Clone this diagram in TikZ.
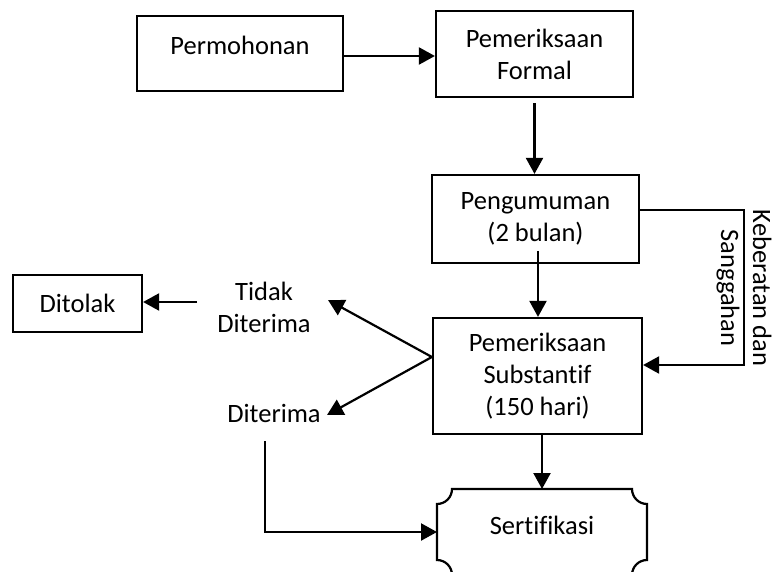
\documentclass[tikz,border=0pt]{standalone}
\usepackage{fontspec}
\setmainfont{Carlito}[Ligatures=NoCommon]
\usepackage{tikz}
\usetikzlibrary{arrows.meta,positioning}
\tikzset{
  box/.style={draw, rectangle, align=center, inner sep=2pt},
  txt/.style={align=center, inner sep=0pt},
  arr/.style={-{Triangle[length=16pt,width=17pt]}},
}

\begin{document}
\begin{tikzpicture}[x=1pt, y=1pt, line width=2.2pt, font=\fontsize{26.5}{32}\selectfont]
  \useasboundingbox (0,0) rectangle (773,571);
  % nodes
  \node[box, minimum width=206pt, minimum height=75pt, text depth=17pt] (perm) at (240,517.5) {Permohonan};
  \node[box, minimum width=197pt, minimum height=86pt] (formal) at (534.5,517) {Pemeriksaan\\Formal};
  \node[box, minimum width=207pt, minimum height=88pt] (umum) at (535.5,352) {Pengumuman\\(2 bulan)};
  \node[box, minimum width=209pt, minimum height=116pt] (subst) at (537.5,195) {Pemeriksaan\\Substantif\\(150 hari)};
  \node[minimum width=210pt, minimum height=86pt, outer sep=0pt, text depth=14pt] (sert) at (542,39) {Sertifikasi};
  \node[box, minimum width=129pt, minimum height=57pt] (tolak) at (77.5,267.5) {Ditolak};
  \node[txt] (tidak) at (264,264) {Tidak\\Diterima};
  \node[txt] (terima) at (274,158) {Diterima};
  \node[txt, rotate=-90] (keberatan) at (744,283) {Keberatan dan\\Sanggahan};
  % sertifikasi shape
  \draw ([xshift=15pt]sert.north west) -- ([xshift=-15pt]sert.north east)
    arc[start angle=180, end angle=270, radius=15pt] -- ([yshift=15pt]sert.south east)
    arc[start angle=90, end angle=180, radius=15pt] -- ([xshift=15pt]sert.south west)
    arc[start angle=0, end angle=90, radius=15pt] -- ([yshift=-15pt]sert.north west)
    arc[start angle=270, end angle=360, radius=15pt] -- cycle;
  % coordinates
  \coordinate (split) at ([yshift=19pt]subst.west);
  \coordinate (tidakin) at (328,271);
  \coordinate (terimain) at (327,156);
  \coordinate (tidakout) at (197,269);
  \coordinate (terimaout) at (265,130);
  \coordinate (umumout) at (538,320);
  % edges
  \draw[arr] ([yshift=-2.5pt]perm.east) -- ([yshift=-2.5pt]perm.east -| formal.west);
  \draw[arr] ([yshift=-5pt]formal.south) -- (formal.south |- umum.north);
  \draw[arr] (umumout) -- (umumout |- subst.north);
  \draw[arr] ([yshift=9pt]umum.east) -- ++(104,0) |- ([yshift=11pt]subst.east);
  \draw[arr] ([xshift=4.5pt]subst.south) -- ([xshift=4.5pt]subst.south |- sert.north);
  \draw[arr] (split) -- (tidakin);
  \draw[arr] (split) -- (terimain);
  \draw[arr] (tidakout) -- (tidakout -| tolak.east);
  \draw[arr] (terimaout) |- (sert.west);
\end{tikzpicture}
\end{document}
